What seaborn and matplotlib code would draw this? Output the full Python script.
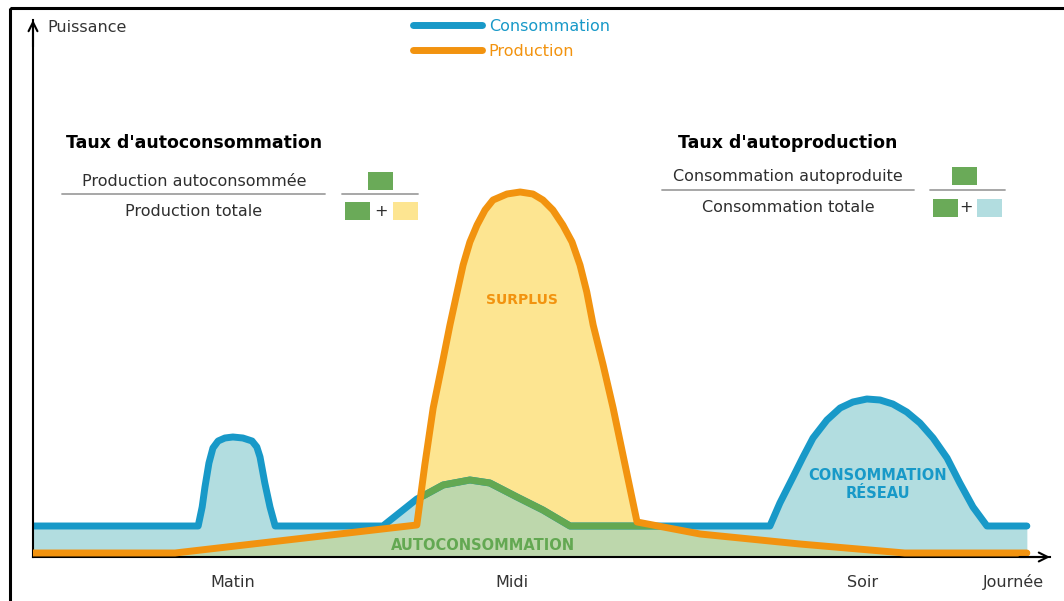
# -*- coding: utf-8 -*-
"""
Autoconsommation / autoproduction : profils de consommation et de production sur une journée.
"""

import matplotlib
matplotlib.use('Agg')
import matplotlib.pyplot as plt
import matplotlib.transforms as mtransforms
from matplotlib.patches import Rectangle
from matplotlib.lines import Line2D
import seaborn as sns


# =============================================================================
# Data (heure de la journée, puissance en unités arbitraires)
# =============================================================================

t_conso = [0.00, 4.14, 4.24, 4.31, 4.41, 4.51, 4.64, 4.81, 5.01, 5.26,
           5.49, 5.61, 5.69, 5.81, 5.94, 6.07,
           8.77, 9.62, 9.82, 10.28, 10.95, 11.45, 12.13, 12.78, 13.46,
           15.04, 18.47, 18.72, 19.05, 19.30, 19.55, 19.90, 20.23, 20.55,
           20.90, 21.23, 21.55, 21.90, 22.23, 22.56, 22.91, 23.23, 23.56,
           23.91, 24.91]
conso = [0.31, 0.31, 0.50, 0.70, 0.94, 1.09, 1.16, 1.19, 1.20, 1.19,
         1.16, 1.10, 1.00, 0.74, 0.50, 0.31,
         0.31, 0.58, 0.62, 0.72, 0.77, 0.74, 0.60, 0.47, 0.31,
         0.31, 0.31, 0.54, 0.80, 1.00, 1.19, 1.37, 1.49, 1.55,
         1.58, 1.57, 1.53, 1.45, 1.34, 1.19, 0.99, 0.74, 0.50,
         0.31, 0.31]

t_prod = [0.00, 3.56, 9.62, 9.82, 10.03, 10.25, 10.45, 10.63, 10.78, 10.95,
          11.13, 11.33, 11.53, 11.88, 12.21, 12.53, 12.78, 13.03, 13.28, 13.51,
          13.71, 13.88, 14.04, 14.29, 14.54, 14.84, 15.14, 16.72, 19.22, 21.85,
          24.91]
prod = [0.04, 0.04, 0.32, 0.92, 1.49, 1.92, 2.32, 2.65, 2.92, 3.15,
        3.32, 3.47, 3.57, 3.63, 3.65, 3.63, 3.57, 3.47, 3.32, 3.15,
        2.92, 2.65, 2.32, 1.92, 1.49, 0.92, 0.35, 0.23, 0.13, 0.04,
        0.04]

tick_hours = [5.0, 12.0, 20.78]
tick_labels = ['Matin', 'Midi', 'Soir']

series_labels = ['Consommation', 'Production']

# colours
BLUE = '#1899c8'
BLUE_FILL = '#b2dde0'
ORANGE = '#f2930f'
YELLOW_FILL = '#fde591'
GREEN = '#63a852'
GREEN_FILL = '#bdd7ac'
GREEN_BOX = '#6aaa58'
TXT = '#2e2e2e'


# =============================================================================
# Figure
# =============================================================================

sns.set_style('white')
plt.rcParams['font.family'] = ['DejaVu Sans']

W, H = 1064, 601
fig = plt.figure(figsize=(W / 100, H / 100), dpi=100)
ax = fig.add_axes([33 / W, 44 / H, 1017 / W, 537 / H])
ax.set_xlim(0, 25.49)
ax.set_ylim(0, 5.37)

# pixel coordinates of the reference (origin top-left) for the decorations
px = mtransforms.Affine2D().scale(1 / W, -1 / H).translate(0, 1) + fig.transFigure

# areas
f_conso = ax.fill_between(t_conso, 0, conso, color=BLUE_FILL, lw=0, zorder=1)
f_prod = ax.fill_between(t_prod, 0, prod, color=YELLOW_FILL, lw=0, zorder=1.1)
f_auto = ax.fill_between(t_prod, 0, prod, color=GREEN_FILL, lw=0, zorder=1.2)
f_auto.set_clip_path(f_conso.get_paths()[0], ax.transData)

# lines
sns.lineplot(x=t_conso, y=conso, color=BLUE, lw=5, estimator=None, sort=False,
             label=series_labels[0], ax=ax, solid_joinstyle='round', zorder=2)
sns.lineplot(x=t_conso, y=conso, color=GREEN, lw=5, estimator=None, sort=False,
             ax=ax, solid_joinstyle='round', zorder=2.1)
green_line = ax.lines[-1]
green_line.set_clip_path(f_prod.get_paths()[0], ax.transData)
sns.lineplot(x=t_prod, y=prod, color=ORANGE, lw=5, estimator=None, sort=False,
             label=series_labels[1], ax=ax, solid_joinstyle='round', zorder=3)

ax.legend(loc='upper left', bbox_to_anchor=(413 / W, 1 - 19 / H),
          bbox_transform=fig.transFigure, frameon=False, fontsize=11.5,
          handlelength=4.3, handletextpad=0.45, labelspacing=0.6,
          borderpad=0, borderaxespad=0, labelcolor='linecolor')

# axes
for side in ['top', 'right']:
    ax.spines[side].set_visible(False)
for side in ['left', 'bottom']:
    ax.spines[side].set_color('black')
    ax.spines[side].set_linewidth(1.5)
ax.set_yticks([])
ax.set_xticks(tick_hours)
ax.set_xticklabels(tick_labels)
ax.tick_params(axis='x', direction='out', length=8, width=1.5, pad=5,
               labelsize=11.5, labelcolor='#333333', color='black')
arrow = dict(arrowstyle='->', lw=1.5, color='black', mutation_scale=16,
             shrinkA=0, shrinkB=0)
ax.annotate('', xy=(1.0, 0), xytext=(0.97, 0), xycoords='axes fraction',
            arrowprops=arrow, annotation_clip=False)
ax.annotate('', xy=(0, 1.0), xytext=(0, 0.95), xycoords='axes fraction',
            arrowprops=arrow, annotation_clip=False)

fig.text(47, 28, 'Puissance', transform=px, fontsize=11.5, color='#333333',
         ha='left', va='center')
fig.text(1013, 582, 'Journée', transform=px, fontsize=11.5, color='#333333',
         ha='center', va='center')

# labels inside the areas
fig.text(522, 300, 'SURPLUS', transform=px, fontsize=10, fontweight='bold',
         color=ORANGE, ha='center', va='center')
fig.text(483, 545, 'AUTOCONSOMMATION', transform=px, fontsize=10.5,
         fontweight='bold', color=GREEN, ha='center', va='center')
fig.text(878, 485, 'CONSOMMATION\nRÉSEAU', transform=px, fontsize=10.5,
         fontweight='bold', color=BLUE, ha='center', va='center',
         linespacing=1.25)

# formula blocks
def ratio_block(cx, title, num, den, y_title, y_num, y_bar, y_den,
                bar_x, box_x, plus_x, extra_x, extra_color):
    fig.text(cx, y_title, title, transform=px, fontsize=12.5,
             fontweight='bold', color='black', ha='center', va='center')
    fig.text(cx, y_num, num, transform=px, fontsize=11.5, color=TXT,
             ha='center', va='center')
    fig.text(cx, y_den, den, transform=px, fontsize=11.5, color=TXT,
             ha='center', va='center')
    fig.add_artist(Line2D(bar_x[0], [y_bar, y_bar], transform=px,
                          color='#a0a0a0', lw=1.3))
    fig.add_artist(Line2D(bar_x[1], [y_bar, y_bar], transform=px,
                          color='#a0a0a0', lw=1.3))
    fig.add_artist(Rectangle((box_x, y_num - 9), 25, 18, transform=px,
                             color=GREEN_BOX, lw=0))
    fig.add_artist(Rectangle((bar_x[1][0] + 3, y_den - 9), 25, 18,
                             transform=px, color=GREEN_BOX, lw=0))
    fig.text(plus_x, y_den, '+', transform=px, fontsize=11.5, color=TXT,
             ha='center', va='center')
    fig.add_artist(Rectangle((extra_x, y_den - 9), 25, 18, transform=px,
                             color=extra_color, lw=0))


ratio_block(194, "Taux d'autoconsommation", 'Production autoconsommée',
            'Production totale', 143, 181, 194, 211,
            ([62, 325], [342, 418]), 368, 381, 393, YELLOW_FILL)
ratio_block(788, "Taux d'autoproduction", 'Consommation autoproduite',
            'Consommation totale', 143, 176, 190, 208,
            ([662, 914], [930, 1005]), 952, 966, 977, BLUE_FILL)

# outer frame
fig.add_artist(Rectangle((10, 8), 1200, 700, transform=px, fill=False,
                         ec='black', lw=2.2))

plt.savefig('out.png', dpi=100)
